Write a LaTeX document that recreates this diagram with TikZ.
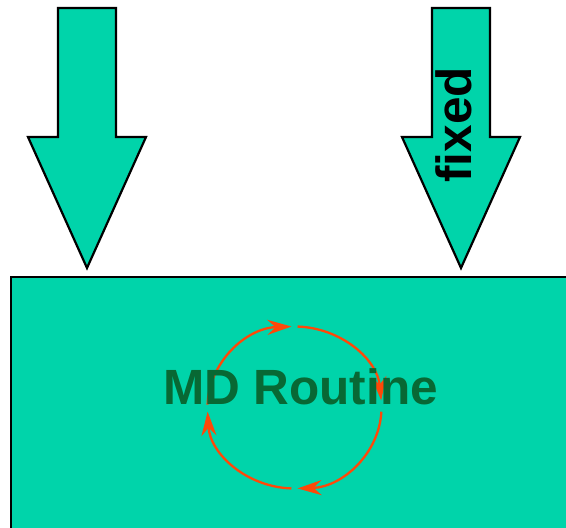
\documentclass[tikz,border=0pt]{standalone}
\usepackage{fontspec}
\setmainfont{Liberation Sans}
\usetikzlibrary{arrows.meta,calc}
\definecolor{teal1}{RGB}{0,212,170}
\definecolor{dgreen}{RGB}{8,104,52}
\definecolor{orng}{RGB}{255,72,8}
\tikzset{
  fatarrow/.style={fill=teal1, draw=black, line width=2.2pt, line join=miter},
  cyc/.style={draw=orng, line width=2.3pt, -{Stealth[length=24pt,width=15pt,inset=8pt]}},
  big/.style={font=\fontsize{49.5}{50}\selectfont\bfseries, inner sep=0pt}
}
\begin{document}
\begin{tikzpicture}[x=1pt,y=1pt]
\useasboundingbox (0,0) rectangle (566,528);
\clip (0,0) rectangle (566,528);
% arrows
\draw[fatarrow] (58,520) -- (116,520) -- (116,391) -- (146,391) -- (87,260) -- (28,391) -- (58,391) -- cycle;
\draw[fatarrow] (432,520) -- (490,520) -- (490,391) -- (520,391) -- (461,260) -- (402,391) -- (432,391) -- cycle;
\node[big, rotate=90] (fixed) at (453.5,403) {fixed};
% box
\draw[fatarrow] (11,251) rectangle (590,-20);
% cycle arcs
\coordinate (c) at (294.5,120.5);
\draw[cyc] ($(c)+(178:87pt and 81pt)$) arc[start angle=178, end angle=92, x radius=87pt, y radius=81pt];
\draw[cyc] ($(c)+(88:87pt and 81pt)$) arc[start angle=88, end angle=5, x radius=87pt, y radius=81pt];
\draw[cyc] ($(c)+(-3:87pt and 81pt)$) arc[start angle=-3, end angle=-88, x radius=87pt, y radius=81pt];
\draw[cyc] ($(c)+(-92:87pt and 81pt)$) arc[start angle=-92, end angle=-177, x radius=87pt, y radius=81pt];
\node[big, text=dgreen] (md) at (300.5,141) {MD Routine};
\end{tikzpicture}
\end{document}
